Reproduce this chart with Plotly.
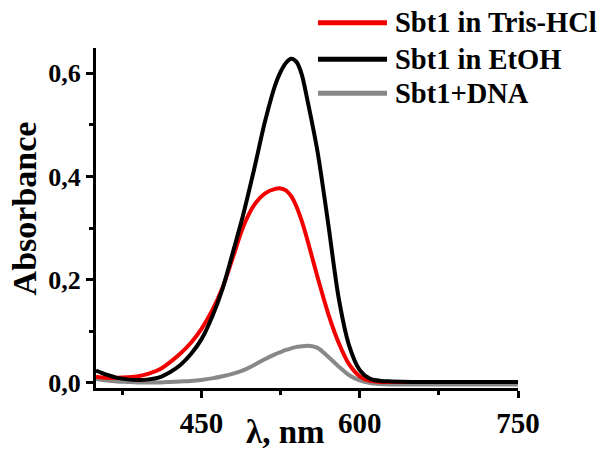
import plotly.graph_objects as go

# wavelength grid (nm)
wl = [350, 360, 370, 380, 390, 400, 410, 420, 430, 440, 450, 460, 470, 480, 490,
      500, 510, 520, 525, 530, 535, 540, 545, 550, 560, 570, 580, 590, 600, 610,
      620, 630, 650, 700, 750]

tris_hcl = [0.012, 0.010, 0.010, 0.011, 0.013, 0.018, 0.026, 0.040, 0.057, 0.078,
            0.105, 0.140, 0.185, 0.245, 0.305, 0.345, 0.367, 0.376, 0.377, 0.373,
            0.362, 0.342, 0.314, 0.280, 0.205, 0.135, 0.078, 0.036, 0.013, 0.004,
            0.002, 0.002, 0.002, 0.002, 0.002]

etoh = [0.024, 0.016, 0.010, 0.007, 0.006, 0.007, 0.011, 0.021, 0.035, 0.056,
        0.085, 0.128, 0.183, 0.255, 0.330, 0.415, 0.505, 0.578, 0.603, 0.620,
        0.628, 0.622, 0.598, 0.552, 0.448, 0.310, 0.165, 0.072, 0.025, 0.008,
        0.004, 0.003, 0.002, 0.002, 0.002]

dna = [0.008, 0.005, 0.003, 0.002, 0.001, 0.001, 0.001, 0.002, 0.003, 0.004,
       0.006, 0.009, 0.013, 0.018, 0.025, 0.035, 0.046, 0.056, 0.060, 0.064,
       0.067, 0.070, 0.071, 0.072, 0.068, 0.051, 0.032, 0.015, 0.005, 0.000,
       -0.002, -0.003, -0.003, -0.003, -0.003]

series_names = ["Sbt1 in Tris-HCl", "Sbt1 in EtOH", "Sbt1+DNA"]
series_values = [tris_hcl, etoh, dna]
series_colors = ["#f20000", "#000000", "#888888"]
draw_order = [2, 0, 1]

x_tickvals = [450, 600, 750]
x_ticktext = ["450", "600", "750"]
y_tickvals = [0.0, 0.2, 0.4, 0.6]
y_ticktext = ["0,0", "0,2", "0,4", "0,6"]

FONT = "Liberation Serif"

fig = go.Figure()
for i in draw_order:
    fig.add_trace(go.Scatter(
        x=wl, y=series_values[i], mode="lines", name=series_names[i],
        line=dict(color=series_colors[i], width=4, shape="spline", smoothing=0.8),
        showlegend=False,
    ))

axis_common = dict(
    showline=True, linecolor="black", linewidth=3, mirror=False,
    showgrid=False, zeroline=False, ticks="outside", tickcolor="black",
    tickwidth=2.5, ticklen=7,
)

fig.update_xaxes(range=[350, 750], tickvals=x_tickvals, ticktext=x_ticktext,
                 tickfont=dict(family=FONT, size=29, color="black", weight="bold"),
                 minor=dict(ticks="outside", tickvals=[375, 525, 675], ticklen=4,
                            tickwidth=2.5, tickcolor="black"),
                 **axis_common)
fig.update_yaxes(range=[-0.0097, 0.649], tickvals=y_tickvals, ticktext=y_ticktext,
                 tickfont=dict(family=FONT, size=26, color="black", weight="bold"),
                 minor=dict(ticks="outside", tickvals=[0.1, 0.3, 0.5], ticklen=4,
                            tickwidth=2.5, tickcolor="black"),
                 **axis_common)

# legend drawn by hand to match the long line samples
leg_y = [1.0744, 0.9668, 0.8668]
shapes = []
annotations = []
for k in range(3):
    shapes.append(dict(type="line", xref="paper", yref="paper",
                       x0=0.526, x1=0.6896, y0=leg_y[k], y1=leg_y[k],
                       line=dict(color=series_colors[k], width=5)))
    annotations.append(dict(text=series_names[k], xref="paper", yref="paper",
                            x=0.703, y=leg_y[k], xanchor="left", yanchor="middle",
                            showarrow=False,
                            font=dict(family=FONT, size=28.5, color="black", weight="bold")))

annotations.append(dict(text="λ, nm", xref="paper", yref="paper", x=0.45, y=-0.1865,
                        xanchor="center", yanchor="bottom", showarrow=False, borderpad=0,
                        font=dict(family=FONT, size=33, color="black", weight="bold")))
annotations.append(dict(text="Absorbance", xref="paper", yref="paper", x=-0.17, y=0.529,
                        xanchor="center", yanchor="middle", showarrow=False, textangle=-90,
                        font=dict(family=FONT, size=34, color="black", weight="bold")))

fig.update_layout(
    width=602, height=453,
    margin=dict(l=96, r=84, t=48, b=65),
    paper_bgcolor="white", plot_bgcolor="white",
    shapes=shapes, annotations=annotations,
    showlegend=False,
)

fig.write_html("out.html")
